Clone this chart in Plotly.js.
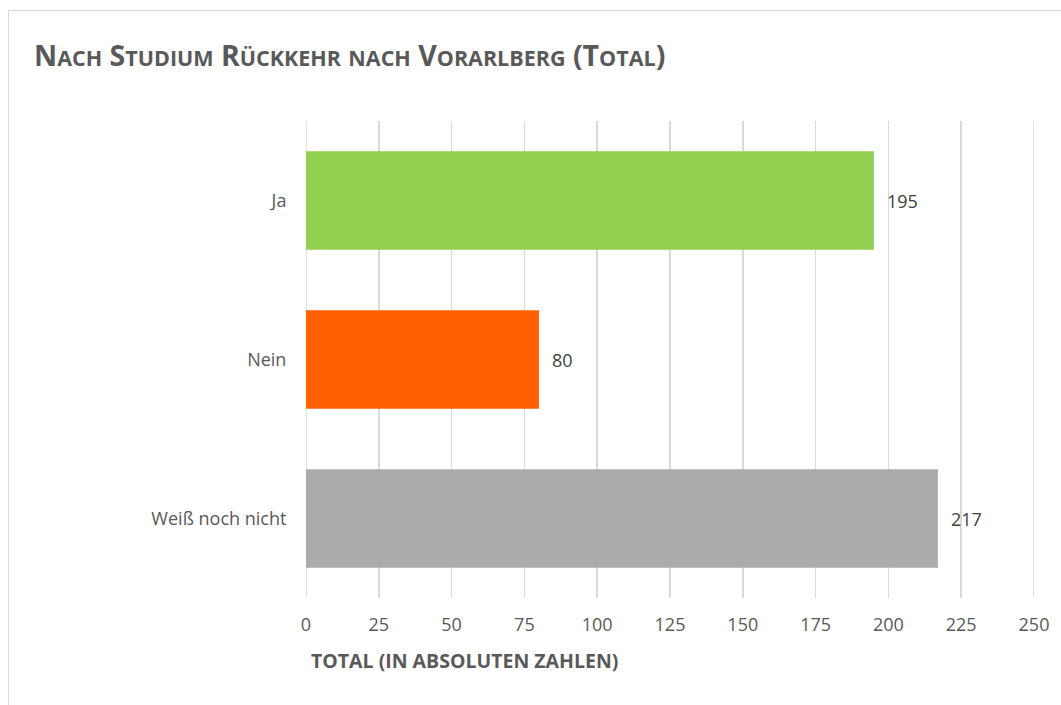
<!DOCTYPE html>
<html>
<head>
<meta charset="utf-8">
<script src="https://cdn.plot.ly/plotly-3.0.1.min.js"></script>
<style>
html,body{margin:0;padding:0;background:#fff;}
#wrap{position:relative;width:1061px;height:705px;overflow:hidden;}
#frame{position:absolute;left:8px;top:10px;width:1100px;height:800px;border:1.5px solid #d9d9d9;box-sizing:border-box;pointer-events:none;}
#chart{position:absolute;left:0;top:0;width:1061px;height:705px;}
</style>
</head>
<body>
<div id="wrap">
<div id="chart"></div>
<div id="frame"></div>
</div>
<script>
const categories = ["Ja", "Nein", "Weiß noch nicht"];
const values = [195, 80, 217];
const barColors = ["#92d050", "#ff6000", "#ababab"];
const tickValues = [0, 25, 50, 75, 100, 125, 150, 175, 200, 225, 250];

const sc = (w) => '<span style="font-size:21.5px">' + w + '</span>';
const titleText = 'N' + sc('ACH') + ' S' + sc('TUDIUM') + ' R' + sc('ÜCKKEHR') + ' ' + sc('NACH') + ' V' + sc('ORARLBERG') + ' (T' + sc('OTAL') + ')';

const font = "Open Sans, Noto Sans, sans-serif";

const annotations = values.map((v, i) => ({
  x: v, y: categories[i], xref: 'x', yref: 'y',
  text: String(v), showarrow: false, xanchor: 'left', xshift: 11,
  font: {family: font, size: 18, color: '#404040'}
}));
annotations.push({
  xref: 'paper', yref: 'paper', x: 0, y: 0, xanchor: 'left', yanchor: 'middle',
  xshift: 3, yshift: -62,
  text: '<b>TOTAL (IN ABSOLUTEN ZAHLEN)</b>', showarrow: false,
  font: {family: font, size: 19.5, color: '#595959'}
});

const edgeLines = [tickValues[0], tickValues[tickValues.length - 1]].map(v => ({
  type: 'line', xref: 'x', yref: 'paper', x0: v, x1: v, y0: 0, y1: 1,
  line: {color: '#d9d9d9', width: 1.5}, layer: 'below'
}));

const data = [{
  type: 'bar', orientation: 'h',
  x: values, y: categories,
  marker: {color: barColors},
  hoverinfo: 'x+y'
}];

const layout = {
  width: 1061, height: 705,
  margin: {l: 306, r: 27, t: 121, b: 107},
  paper_bgcolor: 'rgba(0,0,0,0)', plot_bgcolor: '#fff',
  showlegend: false,
  bargap: 0.38,
  title: {
    text: '<b>' + titleText + '</b>',
    x: 34/1061, xanchor: 'left', xref: 'container',
    y: 1 - 56/705, yanchor: 'middle', yref: 'container',
    font: {family: font, size: 28.5, color: '#595959'}
  },
  xaxis: {
    range: [0, 250], tickvals: tickValues, ticktext: tickValues.map(String),
    showgrid: true, gridcolor: '#d9d9d9', gridwidth: 1.5,
    zeroline: false, showline: false,
    ticks: 'outside', ticklen: 10, tickcolor: 'rgba(0,0,0,0)',
    tickfont: {family: font, size: 18, color: '#595959'},
    fixedrange: true
  },
  yaxis: {
    autorange: 'reversed', type: 'category',
    showgrid: false, zeroline: false,
    showline: false,
    ticks: 'outside', ticklen: 15, tickcolor: 'rgba(0,0,0,0)',
    tickfont: {family: font, size: 18, color: '#595959'},
    fixedrange: true
  },
  shapes: edgeLines,
  annotations: annotations
};

Plotly.newPlot('chart', data, layout, {displayModeBar: false, staticPlot: true});
</script>
</body>
</html>
